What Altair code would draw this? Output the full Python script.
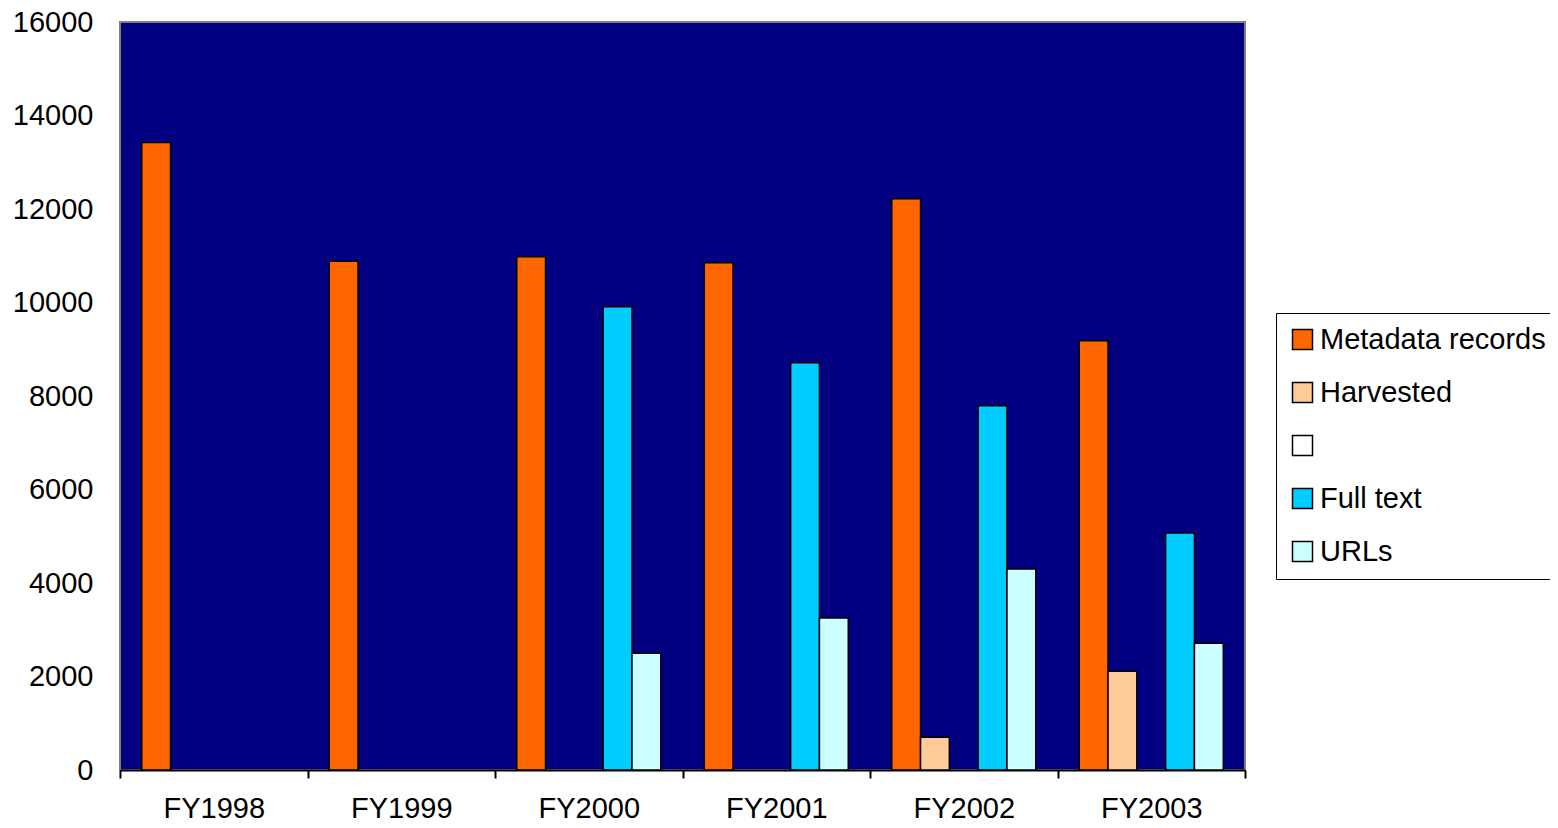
import altair as alt
import pandas as pd

years = ["FY1998", "FY1999", "FY2000", "FY2001", "FY2002", "FY2003"]
series = ["Metadata records", "Harvested", " ", "Full text", "URLs"]
colors = ["#FF6600", "#FFCC99", "#FFFFFF", "#00CCFF", "#CCFFFF"]

metadata = [13420, 10880, 10980, 10850, 12220, 9180]
harvested = [None, None, None, None, 700, 2110]
blank = [None, None, None, None, None, None]
fulltext = [None, None, 9910, 8710, 7790, 5070]
urls = [None, None, 2500, 3250, 4300, 2710]

rows = []
for name, vals in zip(series, [metadata, harvested, blank, fulltext, urls]):
    for y, v in zip(years, vals):
        if v is not None:
            rows.append({"year": y, "series": name, "value": v})
df = pd.DataFrame(rows)

FONT = "Liberation Sans"

chart = alt.Chart(df).mark_bar(stroke="black", strokeWidth=1.5).encode(
    x=alt.X("year:N", sort=years,
            scale=alt.Scale(paddingInner=0, paddingOuter=0),
            axis=alt.Axis(title=None, labelAngle=0, labelFontSize=29, labelFont=FONT,
                          labelColor="black", tickBand="extent", tickColor="black",
                          tickWidth=2, tickSize=8, domainColor="black", domainWidth=2,
                          labelPadding=16)),
    xOffset=alt.XOffset("series:N", sort=series,
                        scale=alt.Scale(domain=series, paddingInner=0, paddingOuter=0.755)),
    y=alt.Y("value:Q", scale=alt.Scale(domain=[0, 16000], nice=False),
            axis=alt.Axis(title=None, values=list(range(0, 16001, 2000)), grid=False,
                          format="d", ticks=False, domain=False, labelFontSize=29,
                          labelFont=FONT, labelColor="black", labelPadding=27)),
    color=alt.Color("series:N", sort=series,
                    scale=alt.Scale(domain=series, range=colors),
                    legend=alt.Legend(title=None, orient="none", legendX=1156, legendY=291,
                                      symbolType="square", symbolSize=400,
                                      symbolStrokeColor="black", symbolStrokeWidth=1.5,
                                      labelFontSize=29, labelFont=FONT, labelColor="black",
                                      labelOffset=3, rowPadding=23,
                                      strokeColor="black", fillColor="white",
                                      padding=12, labelLimit=400)),
).properties(
    width=1125,
    height=748,
    autosize="none",
    padding={"left": 112, "top": 14, "right": 305, "bottom": 50},
).configure_view(
    fill="#000080", stroke="#808080", strokeWidth=2
)

chart.save("out.html", embed_options={"renderer": "svg", "actions": False})
